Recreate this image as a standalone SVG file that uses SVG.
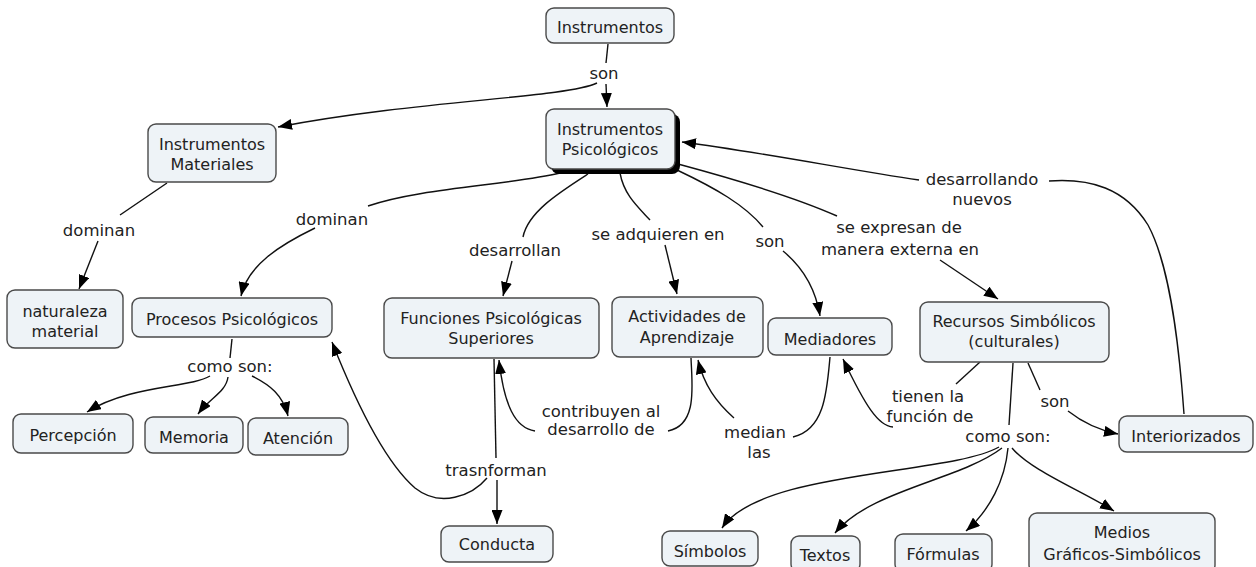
<svg xmlns="http://www.w3.org/2000/svg" width="1256" height="567" viewBox="0 0 1256 567">
<style>
.box{fill:#eef3f7;stroke:#4a4a4a;stroke-width:1.4}
.nt{font-family:"DejaVu Sans",sans-serif;font-size:16px;fill:#222;text-anchor:middle}
.lt{font-family:"DejaVu Sans",sans-serif;font-size:16.5px;fill:#222;text-anchor:middle}
.c{fill:none;stroke:#111;stroke-width:1.4}
.a{fill:none;stroke:#111;stroke-width:1.4;marker-end:url(#ah)}
</style>
<defs>
<marker id="ah" viewBox="0 0 14 11" refX="14" refY="5.5" markerWidth="14" markerHeight="11" markerUnits="userSpaceOnUse" orient="auto"><path d="M0,0 L14,5.5 L0,11 z" fill="#000"/></marker>
</defs>
<rect width="1256" height="567" fill="#fff"/>
<g id="connectors">
<path class="c" d="M608 44 L606 63"/>
<path class="a" d="M606 84 L607 107"/>
<path class="a" d="M597 83 C565 98 420 100 278 127"/>
<path class="c" d="M167 183 L120 215"/>
<path class="a" d="M98 241 L79 289"/>
<path class="c" d="M560 173 C510 185 420 188 368 206"/>
<path class="a" d="M315 228 C280 245 248 265 241 296"/>
<path class="c" d="M588 174 C560 192 528 212 523 237"/>
<path class="a" d="M512 261 L503 296"/>
<path class="c" d="M620 173 C624 195 638 207 650 220"/>
<path class="a" d="M665 245 L677 294"/>
<path class="c" d="M677 170 C715 188 745 205 763 227"/>
<path class="a" d="M783 251 C800 265 815 285 820 316"/>
<path class="c" d="M678 164 C730 178 790 195 837 216"/>
<path class="a" d="M940 260 L998 299"/>
<path class="c" d="M1049 181 C1090 178 1125 188 1148 225 C1168 262 1178 330 1184 414"/>
<path class="a" d="M919 180 C850 170 760 152 682 142"/>
<path class="c" d="M232 339 L230 358"/>
<path class="a" d="M210 376 C190 388 130 385 87 412"/>
<path class="a" d="M228 377 C226 392 210 398 198 414"/>
<path class="a" d="M252 376 C270 385 283 395 288 416"/>
<path class="c" d="M494 359 L496 458"/>
<path class="a" d="M497 480 L497 524"/>
<path class="a" d="M487 478 C472 496 440 508 415 488 C385 462 355 400 332 342"/>
<path class="c" d="M691 358 C692 385 698 425 668 431"/>
<path class="a" d="M535 431 C515 428 504 405 499 360"/>
<path class="c" d="M830 357 C827 390 825 430 793 437"/>
<path class="a" d="M734 418 C716 402 704 385 698 360"/>
<path class="c" d="M980 362 L956 384"/>
<path class="a" d="M893 427 C878 426 865 405 843 359"/>
<path class="c" d="M1013 363 L1009 425"/>
<path class="a" d="M999 447 C950 475 760 470 722 528"/>
<path class="a" d="M1002 448 C960 480 870 490 835 533"/>
<path class="a" d="M1008 448 C1005 480 990 510 966 531"/>
<path class="a" d="M1012 448 C1030 470 1080 490 1114 511"/>
<path class="c" d="M1028 363 L1040 390"/>
<path class="a" d="M1068 411 C1082 422 1098 430 1118 434"/>
<text class="lt" x="604" y="79">son</text>
<text class="lt" x="99" y="236">dominan</text>
<text class="lt" x="332" y="225">dominan</text>
<text class="lt" x="515" y="256">desarrollan</text>
<text class="lt" x="658" y="240">se adquieren en</text>
<text class="lt" x="770" y="247">son</text>
<text class="lt" x="899" y="233">se expresan de</text>
<text class="lt" x="900" y="255">manera externa en</text>
<text class="lt" x="982" y="185">desarrollando</text>
<text class="lt" x="982" y="205">nuevos</text>
<text class="lt" x="230" y="372">como son:</text>
<text class="lt" x="496" y="476">trasnforman</text>
<text class="lt" x="601" y="417">contribuyen al</text>
<text class="lt" x="601" y="435">desarrollo de</text>
<text class="lt" x="755" y="438">median</text>
<text class="lt" x="759" y="458">las</text>
<text class="lt" x="928" y="402">tienen la</text>
<text class="lt" x="930" y="422">función de</text>
<text class="lt" x="1055" y="407">son</text>
<text class="lt" x="1008" y="442">como son:</text>
</g>
<g id="n-instrumentos"><rect class="box" x="546" y="8" width="128" height="35" rx="8"/><text class="nt" x="610" y="33">Instrumentos</text></g>
<g id="n-instr-psic"><rect x="551" y="114" width="129" height="60" rx="8" fill="#000"/><rect class="box" x="546" y="109" width="129" height="60" rx="8"/><text class="nt" x="610" y="135">Instrumentos</text><text class="nt" x="610" y="155">Psicológicos</text></g>
<g id="n-instr-mat"><rect class="box" x="148" y="124" width="128" height="58" rx="8"/><text class="nt" x="212" y="150">Instrumentos</text><text class="nt" x="212" y="170">Materiales</text></g>
<g id="n-naturaleza"><rect class="box" x="7" y="290" width="116" height="58" rx="8"/><text class="nt" x="65" y="317">naturaleza</text><text class="nt" x="65" y="337">material</text></g>
<g id="n-procesos"><rect class="box" x="132" y="298" width="200" height="39" rx="8"/><text class="nt" x="232" y="325">Procesos Psicológicos</text></g>
<g id="n-funciones"><rect class="box" x="384" y="298" width="215" height="60" rx="8"/><text class="nt" x="491" y="324">Funciones Psicológicas</text><text class="nt" x="491" y="344">Superiores</text></g>
<g id="n-actividades"><rect class="box" x="612" y="297" width="151" height="60" rx="8"/><text class="nt" x="687" y="322">Actividades de</text><text class="nt" x="687" y="343">Aprendizaje</text></g>
<g id="n-mediadores"><rect class="box" x="768" y="318" width="124" height="37" rx="8"/><text class="nt" x="830" y="345">Mediadores</text></g>
<g id="n-recursos"><rect class="box" x="920" y="302" width="189" height="60" rx="8"/><text class="nt" x="1014" y="327">Recursos Simbólicos</text><text class="nt" x="1014" y="347">(culturales)</text></g>
<g id="n-percepcion"><rect class="box" x="13" y="414" width="120" height="39" rx="8"/><text class="nt" x="73" y="441">Percepción</text></g>
<g id="n-memoria"><rect class="box" x="145" y="417" width="98" height="36" rx="8"/><text class="nt" x="194" y="443">Memoria</text></g>
<g id="n-atencion"><rect class="box" x="248" y="418" width="100" height="37" rx="8"/><text class="nt" x="298" y="444">Atención</text></g>
<g id="n-interiorizados"><rect class="box" x="1119" y="416" width="134" height="36" rx="8"/><text class="nt" x="1186" y="442">Interiorizados</text></g>
<g id="n-conducta"><rect class="box" x="441" y="526" width="112" height="36" rx="8"/><text class="nt" x="497" y="550">Conducta</text></g>
<g id="n-simbolos"><rect class="box" x="662" y="531" width="96" height="35" rx="8"/><text class="nt" x="710" y="557">Símbolos</text></g>
<g id="n-textos"><rect class="box" x="791" y="536" width="69" height="36" rx="8"/><text class="nt" x="825" y="561">Textos</text></g>
<g id="n-formulas"><rect class="box" x="895" y="534" width="97" height="38" rx="8"/><text class="nt" x="943" y="560">Fórmulas</text></g>
<g id="n-medios"><rect class="box" x="1029" y="513" width="186" height="60" rx="8"/><text class="nt" x="1122" y="538">Medios</text><text class="nt" x="1122" y="560">Gráficos-Simbólicos</text></g>
</svg>
